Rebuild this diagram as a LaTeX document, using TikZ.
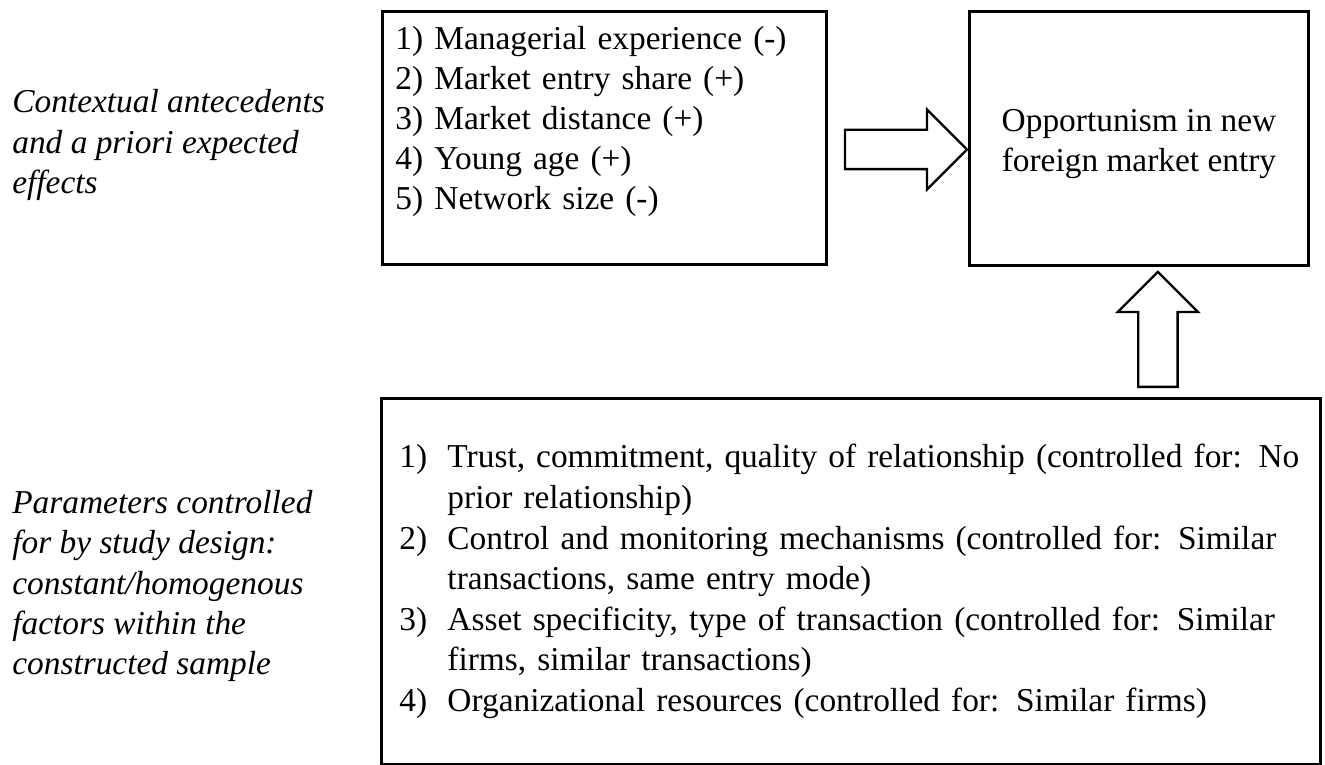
\documentclass[tikz,border=0pt]{standalone}
\usepackage{fontspec}
\setmainfont{Liberation Serif}
\usetikzlibrary{shapes.arrows,calc,positioning}

\tikzset{
  box/.style={draw, line width=1.7pt, inner ysep=0pt, font=\fontsize{19}{22.8}\selectfont},
  blockarrow/.style={single arrow, draw, line width=1.3pt, inner xsep=0pt, inner ysep=0.37cm,
    minimum width=1.56cm, single arrow head extend=0.41cm, anchor=tail},
  sidelabel/.style={anchor=west, align=left, inner sep=0pt, font=\fontsize{19}{22.8}\selectfont\itshape},
}

\begin{document}
\begin{tikzpicture}[x=0.02cm,y=-0.02cm]
  \useasboundingbox (0,0) rectangle (1325,764);

  % boxes
  \node[box, anchor=north west, minimum width=8.88cm, minimum height=5.06cm,
        text width=8.36cm, inner xsep=0.26cm, align=left] (list) at (381,10)
        {1) Managerial experience (-)\\
         2) Market entry share (+)\\
         3) Market distance (+)\\
         4) Young age (+)\\
         5) Network size (-)\\ \mbox{}};
  \node[box, anchor=north west, minimum width=6.78cm, minimum height=5.08cm,
        align=center] (opp) at (968,10)
        {\rule{0pt}{0.65cm}Opportunism in new\\foreign market entry};
  \node[box, anchor=north west, minimum width=18.78cm, minimum height=7.32cm,
        text width=18.06cm, inner xsep=0.36cm, align=left,
        font=\fontsize{19}{23.1}\selectfont] (ctrl) at (380,397)
        {\hangindent=0.96cm\hangafter=1\noindent\makebox[0.96cm][l]{1)}Trust, commitment, quality of relationship (controlled for: No\newline prior relationship)\par
         \hangindent=0.96cm\hangafter=1\noindent\makebox[0.96cm][l]{2)}Control and monitoring mechanisms (controlled for: Similar\newline transactions, same entry mode)\par
         \hangindent=0.96cm\hangafter=1\noindent\makebox[0.96cm][l]{3)}Asset specificity, type of transaction (controlled for: Similar\newline firms, similar transactions)\par
         \hangindent=0.96cm\hangafter=1\noindent\makebox[0.96cm][l]{4)}Organizational resources (controlled for: Similar firms)\par};

  % side labels
  \node[sidelabel] (labtop) at (12,145)
        {Contextual antecedents\\and a priori expected\\effects};
  \node[sidelabel] (labbot) at (12,586)
        {Parameters controlled\\for by study design:\\constant/homogenous\\factors within the\\constructed sample};

  % block arrows
  \node[blockarrow, minimum height=2.44cm] (arrA) at ($(list.east)+(16,11.5)$) {};
  \node[blockarrow, minimum height=2.3cm, rotate=90] (arrB) at ($(opp.south |- ctrl.north)+(19,-9)$) {};
\end{tikzpicture}
\end{document}
